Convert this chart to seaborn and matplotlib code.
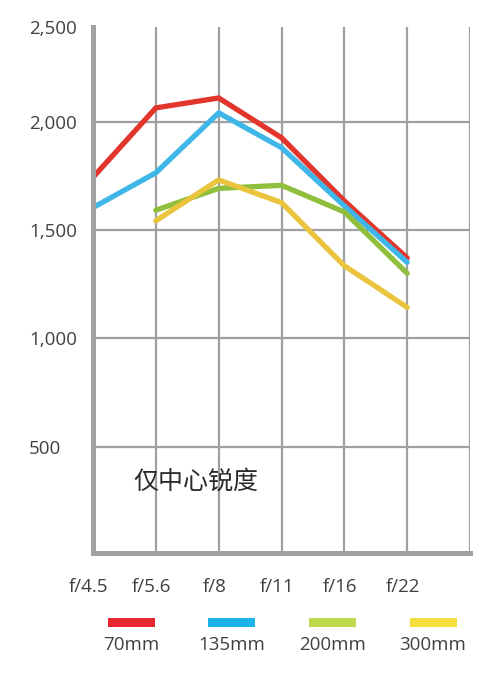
import matplotlib
matplotlib.use("Agg")
import matplotlib.pyplot as plt
import matplotlib.transforms as mtrans
from matplotlib.patches import Rectangle
import numpy as np
import pandas as pd
import seaborn as sns

# data
apertures = ["f/4.5", "f/5.6", "f/8", "f/11", "f/16", "f/22"]
lens_names = ["70mm", "135mm", "200mm", "300mm"]
vals_70 = [1745, 2066, 2112, 1928, 1636, 1372]
vals_135 = [1605, 1766, 2043, 1882, 1613, 1352]
vals_200 = [np.nan, 1593, 1694, 1708, 1585, 1301]
vals_300 = [np.nan, 1544, 1733, 1628, 1336, 1144]
ytick_vals = [500, 1000, 1500, 2000, 2440]
ytick_labels = ["500", "1,000", "1,500", "2,000", "2,500"]

line_colors = ["#e2352c", "#3fb6e8", "#8fbf3c", "#e9c43c"]
legend_colors = ["#e8262e", "#1ab3ea", "#bdd84c", "#f5df3f"]
grid_gray = "#a0a0a2"
text_gray = "#404040"

sns.set_style("white")
plt.rcParams["font.family"] = ["Open Sans", "Noto Sans CJK SC", "DejaVu Sans"]

rows = []
for name, vals in zip(lens_names, [vals_70, vals_135, vals_200, vals_300]):
    for i, v in enumerate(vals):
        rows.append({"pos": i, "value": v, "lens": name})
df = pd.DataFrame(rows)

fig = plt.figure(figsize=(4.97, 6.76), dpi=100)
ax = fig.add_axes([93 / 497, 123 / 676, 377 / 497, 526 / 676])

sns.lineplot(data=df, x="pos", y="value", hue="lens", hue_order=lens_names,
             palette=line_colors, estimator=None, sort=False, linewidth=3.8,
             legend=False, ax=ax, zorder=3)

ax.set_xlim(0, 6)
ax.set_ylim(8, 2440)
ax.set_xticks(range(7))
ax.set_xticklabels(apertures + [""])
ax.set_yticks(ytick_vals)
ax.set_yticklabels(ytick_labels)
ax.set_xlabel("")
ax.set_ylabel("")

ax.grid(True, axis="x", color=grid_gray, linewidth=1.6)
for v in ytick_vals[:-1]:
    ax.axhline(v, color=grid_gray, linewidth=1.6, zorder=1)

for side in ["top", "right"]:
    ax.spines[side].set_visible(False)
for side in ["left", "bottom"]:
    ax.spines[side].set_color(grid_gray)
    ax.spines[side].set_linewidth(3.6)
    ax.spines[side].set_zorder(4)

ax.tick_params(axis="x", length=0, pad=18, labelsize=13.5, labelcolor=text_gray)
ax.tick_params(axis="y", length=0, pad=46, labelsize=13.5, labelcolor=text_gray)
for lab in ax.get_yticklabels():
    lab.set_horizontalalignment("left")
shift = mtrans.ScaledTranslation(-4 / 100, 0, fig.dpi_scale_trans)
for lab in ax.get_xticklabels():
    lab.set_transform(lab.get_transform() + shift)

ax.text(0.65, 340, "仅中心锐度", fontsize=18, color="#2a2a2a",
        family=["Noto Sans CJK SC", "DejaVu Sans"], fontweight="light",
        ha="left", va="center")

# legend: colour bar above each label
for i, (name, col) in enumerate(zip(lens_names, legend_colors)):
    cx = (131 + i * 100.7) / 497
    fig.add_artist(Rectangle((cx - 23.5 / 497, 1 - 627 / 676), 47 / 497, 9 / 676,
                             transform=fig.transFigure, color=col, lw=0))
    fig.text(cx, 1 - 645 / 676, name, ha="center", va="center",
             fontsize=13.5, color=text_gray)

fig.savefig("out.png", dpi=100, facecolor="white")
